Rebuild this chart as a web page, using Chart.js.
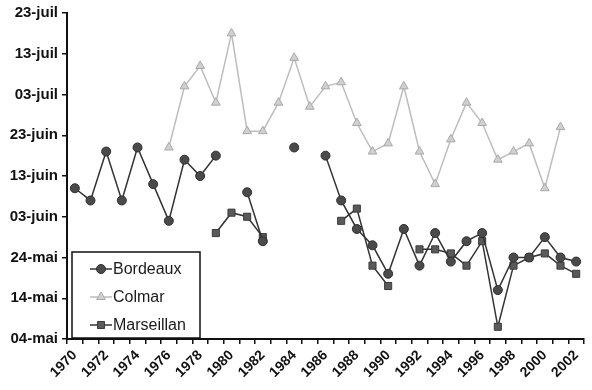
<!DOCTYPE html>
<html>
<head>
<meta charset="utf-8">
<script src="https://cdn.jsdelivr.net/npm/chart.js@4/dist/chart.umd.min.js"></script>
<style>
  html, body { margin: 0; padding: 0; background: #fff; }
  #wrap { width: 592px; height: 390px; position: relative; }
</style>
</head>
<body>
<div id="wrap"><canvas id="chart"></canvas></div>
<script>
// Years on the category axis
const years = [];
for (let y = 1970; y <= 2002; y++) years.push(String(y));

// Dates as day of year (non leap year): 124 = 04-mai, 204 = 23-juil
const bordeaux = [
  161, 158, 170, 158, 171, 162, 153, 168, 164, 169,
  null, 160, 148, null, 171, null, 169, 158, 151, 147,
  140, 151, 142, 150, 143, 148, 150, 136, 144, 144,
  149, 144, 143
];
const colmar = [
  null, null, null, null, null, null, 171, 186, 191, 182,
  199, 175, 175, 182, 193, 181, 186, 187, 177, 170,
  172, 186, 170, 162, 173, 182, 177, 168, 170, 172,
  161, 176, null
];
const marseillan = [
  null, null, null, null, null, null, null, null, null, 150,
  155, 154, 149, null, null, null, null, 153, 156, 142,
  137, null, 146, 146, 145, 142, 148, 127, 142, 144,
  145, 142, 140
];

const yStart = 124;
const yStep = 10;
const yTickLabels = ['04-mai', '14-mai', '24-mai', '03-juin', '13-juin', '23-juin', '03-juil', '13-juil', '23-juil'];

const FONT = "'Liberation Sans', Arial, sans-serif";

// ── Legend drawn inside the plot, bottom left ─────────────
function drawMarker(ctx, style, x, y, r) {
  ctx.beginPath();
  if (style === 'circle') {
    ctx.arc(x, y, r, 0, Math.PI * 2);
  } else if (style === 'rect') {
    const s = r * Math.SQRT1_2;
    ctx.rect(x - s, y - s, 2 * s, 2 * s);
  } else {
    ctx.moveTo(x, y - r);
    ctx.lineTo(x + r * 0.866, y + r * 0.5);
    ctx.lineTo(x - r * 0.866, y + r * 0.5);
    ctx.closePath();
  }
  ctx.fill();
  ctx.stroke();
}

const boxLegend = {
  id: 'boxLegend',
  afterDraw(chart) {
    const ctx = chart.ctx;
    const area = chart.chartArea;
    const x0 = area.left + 5, y0 = area.bottom - 87, w = 128, h = 86;
    ctx.save();
    ctx.fillStyle = '#fff';
    ctx.fillRect(x0, y0, w, h);
    ctx.strokeStyle = '#111';
    ctx.lineWidth = 1.5;
    ctx.strokeRect(x0, y0, w, h);

    chart.data.datasets.forEach((ds, i) => {
      const cy = y0 + 17 + i * 28;
      ctx.strokeStyle = ds.borderColor;
      ctx.lineWidth = 1.5;
      ctx.beginPath();
      ctx.moveTo(x0 + 18, cy);
      ctx.lineTo(x0 + 40, cy);
      ctx.stroke();
      ctx.fillStyle = ds.pointBackgroundColor;
      ctx.strokeStyle = ds.pointBorderColor;
      ctx.lineWidth = 1;
      drawMarker(ctx, ds.pointStyle, x0 + 29, cy, ds.pointRadius);
      ctx.fillStyle = '#1a1a1a';
      ctx.font = '16px ' + FONT;
      ctx.textBaseline = 'middle';
      ctx.fillText(ds.label, x0 + 41, cy + 1);
    });
    ctx.restore();
  },
};

new Chart(document.getElementById('chart'), {
  type: 'line',
  data: {
    labels: years,
    datasets: [
      {
        label: 'Bordeaux',
        data: bordeaux,
        borderColor: '#333',
        borderWidth: 1.5,
        pointStyle: 'circle',
        pointRadius: 4.5,
        pointBackgroundColor: '#4a4a4a',
        pointBorderColor: '#2e2e2e',
        pointBorderWidth: 1,
      },
      {
        label: 'Colmar',
        data: colmar,
        borderColor: '#bdbdbd',
        borderWidth: 1.5,
        pointStyle: 'triangle',
        pointRadius: 5,
        pointBackgroundColor: '#d0d0d0',
        pointBorderColor: '#a8a8a8',
        pointBorderWidth: 1,
      },
      {
        label: 'Marseillan',
        data: marseillan,
        borderColor: '#333',
        borderWidth: 1.5,
        pointStyle: 'rect',
        pointRadius: 5,
        pointBackgroundColor: '#5a5a5a',
        pointBorderColor: '#3a3a3a',
        pointBorderWidth: 1,
      },
    ],
  },
  options: {
    responsive: true,
    maintainAspectRatio: false,
    animation: false,
    spanGaps: false,
    layout: { padding: { top: 12, right: 8, left: 0, bottom: 0 } },
    plugins: {
      legend: { display: false },
      tooltip: { enabled: false },
    },
    elements: { line: { tension: 0 } },
    scales: {
      x: {
        offset: true,
        grid: {
          offset: true,
          drawOnChartArea: false,
          drawTicks: true,
          tickLength: 5,
          color: '#111',
          lineWidth: 1.5,
        },
        border: { display: true, color: '#111', width: 2 },
        ticks: {
          autoSkip: false,
          minRotation: 45,
          maxRotation: 45,
          padding: 3,
          color: '#111',
          font: { family: FONT, size: 14, weight: 'bold' },
          callback: (v, i) => (i % 2 === 0 ? years[i] : ''),
        },
        afterFit: s => { s.height = 51; },
      },
      y: {
        min: yStart,
        max: yStart + yStep * (yTickLabels.length - 1),
        grid: {
          drawOnChartArea: false,
          drawTicks: true,
          tickLength: 5,
          color: '#111',
          lineWidth: 1.5,
        },
        border: { display: true, color: '#111', width: 2 },
        ticks: {
          stepSize: yStep,
          padding: 4,
          color: '#111',
          font: { family: FONT, size: 15, weight: 'bold' },
          callback: v => yTickLabels[Math.round((v - yStart) / yStep)],
        },
        afterFit: s => { s.width = 67; },
      },
    },
  },
  plugins: [boxLegend],
});
</script>
</body>
</html>
